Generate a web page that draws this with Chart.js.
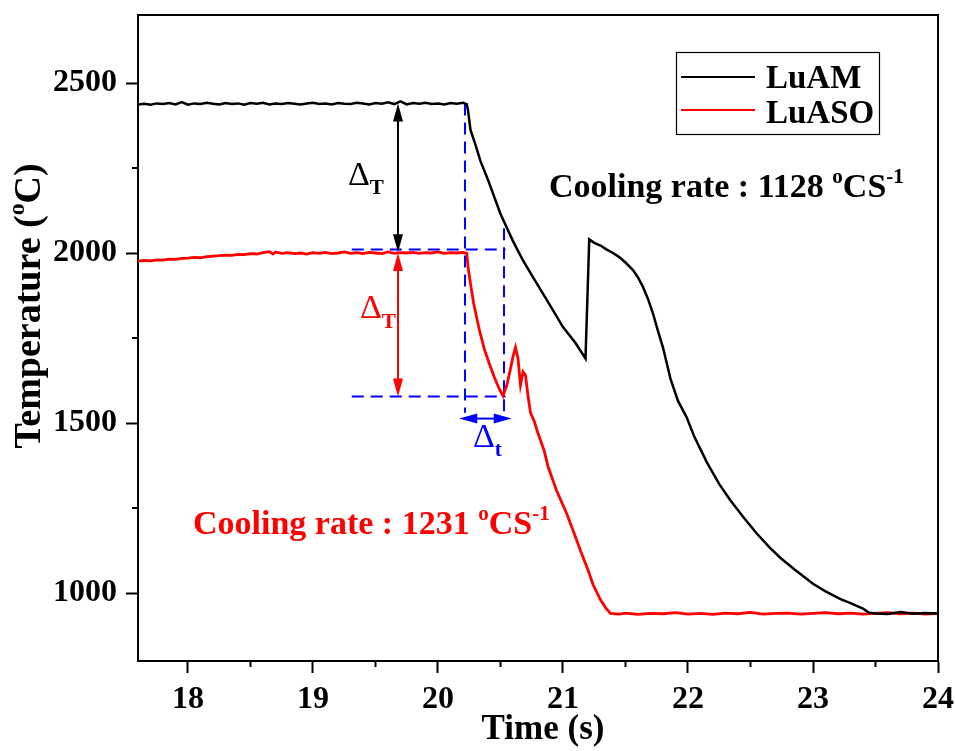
<!DOCTYPE html>
<html><head><meta charset="utf-8">
<script src="https://cdn.jsdelivr.net/npm/chart.js@4.4.1/dist/chart.umd.min.js"></script>
<style>html,body{margin:0;padding:0;background:#fff}canvas{display:block}</style>
</head><body>
<canvas id="c" width="955" height="751"></canvas>
<script>
// ---------- data ----------
const seriesNames = ['LuAM', 'LuASO'];

const luamTime = [17.60,17.65,17.70,17.75,17.80,17.85,17.90,17.95,18.00,18.05,18.10,18.15,18.20,18.25,18.30,18.35,18.40,18.45,18.50,18.55,18.60,18.65,18.70,18.75,18.80,18.85,18.90,18.95,19.00,19.05,19.10,19.15,19.20,19.25,19.30,19.35,19.40,19.45,19.50,19.55,19.60,19.65,19.70,19.75,19.80,19.85,19.90,19.95,20.00,20.05,20.10,20.15,20.20,20.23,
  20.24,20.26,20.30,20.34,20.40,20.50,20.60,20.68,20.75,20.87,21.00,21.10,21.18,
  21.21,21.25,21.30,21.35,21.40,21.45,21.50,21.56,21.60,21.64,21.68,21.72,21.76,21.80,21.86,21.92,21.99,22.05,22.15,22.25,22.34,22.45,22.55,22.65,22.74,22.85,23.00,23.10,23.22,23.30,23.40,23.45,23.50,23.60,23.70,23.80,23.90,24.00];
const luamTemp = [2437,2439,2436,2440,2438,2441,2437,2444,2436,2440,2438,2442,2439,2437,2441,2438,2440,2436,2441,2439,2442,2437,2440,2438,2441,2439,2437,2440,2442,2438,2440,2437,2441,2439,2438,2442,2440,2437,2441,2439,2443,2438,2446,2437,2441,2439,2442,2438,2440,2437,2441,2439,2442,2438,
  2420,2362,2318,2270,2215,2115,2035,1978,1935,1862,1782,1735,1690,
  2040,2030,2022,2010,2000,1988,1972,1950,1928,1900,1865,1822,1770,1722,1630,1565,1516,1460,1385,1320,1272,1220,1175,1135,1103,1070,1027,1005,982,970,954,942,940,938,944,939,941,940];

const lusoTime = [17.60,17.65,17.70,17.75,17.80,17.85,17.90,17.95,18.00,18.05,18.10,18.15,18.20,18.25,18.30,18.35,18.40,18.45,18.50,18.55,18.60,18.65,18.68,18.70,18.75,18.80,18.85,18.90,18.95,19.00,19.05,19.10,19.15,19.20,19.25,19.30,19.35,19.40,19.45,19.50,19.55,19.60,19.65,19.70,19.75,19.80,19.85,19.90,19.95,20.00,20.05,20.10,20.15,20.20,20.23,
  20.24,20.26,20.285,20.33,20.37,20.41,20.45,20.49,20.52,20.55,20.58,20.60,20.62,20.64,20.66,20.68,20.70,20.72,20.74,20.77,20.80,20.85,20.88,20.95,21.03,21.10,21.14,21.20,21.24,21.30,21.34,21.38,
  21.45,21.50,21.60,21.70,21.80,21.90,22.00,22.10,22.20,22.30,22.40,22.50,22.60,22.70,22.80,22.90,23.00,23.10,23.20,23.30,23.40,23.50,23.60,23.70,23.80,23.90,24.00];
const lusoTemp = [1976,1978,1977,1980,1979,1982,1981,1984,1985,1987,1986,1989,1991,1992,1994,1993,1996,1995,1998,1997,2001,2004,1997,2003,1999,2001,1998,2000,1997,2001,1999,2002,1998,2000,2003,1999,2001,1998,2002,2000,1998,2003,1999,2001,2000,2002,1999,2001,2000,2003,1999,2001,2000,2002,1999,
  1960,1910,1852,1775,1718,1675,1635,1600,1580,1610,1660,1695,1722,1690,1612,1650,1640,1580,1530,1505,1470,1418,1372,1300,1233,1165,1124,1068,1025,980,957,940,
  938,941,937,940,939,942,938,940,937,941,939,943,938,940,941,938,940,942,939,941,938,940,942,939,941,938,940];

const xTicks = [18, 19, 20, 21, 22, 23, 24];
const xMinorTicks = [18.5, 19.5, 20.5, 21.5, 22.5, 23.5];
const yTicks = [1000, 1500, 2000, 2500];
const yMinorTicks = [1250, 1750, 2250];

// blue dashed guide lines (time pairs / temperature pairs)
const guideTime = [[19.31, 20.54], [19.31, 20.54], [20.216, 20.216], [20.528, 20.528]];
const guideTemp = [[2010, 2010], [1578, 1578], [2440, 1530], [2073, 1527]];
// double arrows: black ΔT, red ΔT, blue Δt
const arrowTime = [[19.68, 19.68], [19.68, 19.68], [20.17, 20.59]];
const arrowTemp = [[2440, 2002], [2000, 1578], [1513, 1513]];
const rateTexts = ['Cooling rate : 1128 ', 'Cooling rate : 1231 '];

// ---------- chart ----------
const FONT = '"Liberation Serif", "Times New Roman", serif';
const BLACK = '#000000', RED = '#ff0000', BLUE = '#0000ff';

function pts(tx, ty) { return tx.map((t, i) => ({ x: t, y: ty[i] })); }

const datasets = [
  { label: seriesNames[0], data: pts(luamTime, luamTemp), borderColor: BLACK, borderWidth: 2.5 },
  { label: seriesNames[1], data: pts(lusoTime, lusoTemp), borderColor: RED, borderWidth: 2.8 }
];
guideTime.forEach((g, i) => {
  datasets.push({ label: 'guide' + i, data: pts(g, guideTemp[i]), borderColor: BLUE, borderWidth: 2, borderDash: [12, 7] });
});
datasets.forEach(d => { d.showLine = true; d.pointRadius = 0; d.fill = false; d.tension = 0; });

function fontOf(p, size) {
  const s = p.m ? size * 0.62 : size;
  const wgt = p.w === 'n' ? 'normal' : 'bold';
  return wgt + ' ' + s.toFixed(1) + 'px ' + FONT;
}
function richWidth(ctx, parts, size) {
  let w = 0;
  parts.forEach(p => { ctx.font = fontOf(p, size); w += ctx.measureText(p.t).width; });
  return w;
}
function drawRich(ctx, parts, x, y, size, color, align) {
  const w = richWidth(ctx, parts, size);
  let cx = align === 'center' ? x - w / 2 : x;
  ctx.fillStyle = color;
  ctx.textBaseline = 'alphabetic';
  ctx.textAlign = 'left';
  parts.forEach(p => {
    ctx.font = fontOf(p, size);
    const dy = p.m === 1 ? -size * 0.42 : (p.m === 2 ? size * 0.28 : 0);
    ctx.fillText(p.t, cx, y + dy);
    cx += ctx.measureText(p.t).width;
  });
}
function arrowHead(ctx, xt, yt, ang, len, half) {
  ctx.beginPath();
  ctx.moveTo(xt, yt);
  ctx.lineTo(xt - len * Math.cos(ang) + half * Math.sin(ang), yt - len * Math.sin(ang) - half * Math.cos(ang));
  ctx.lineTo(xt - len * Math.cos(ang) - half * Math.sin(ang), yt - len * Math.sin(ang) + half * Math.cos(ang));
  ctx.closePath();
  ctx.fill();
}

const overlay = {
  id: 'overlay',
  afterDatasetsDraw(chart) {
    const { ctx, scales: { x, y } } = chart;
    const cols = [BLACK, RED, BLUE];
    ctx.save();
    arrowTime.forEach((tt, i) => {
      const x1 = x.getPixelForValue(tt[0]), y1 = y.getPixelForValue(arrowTemp[i][0]);
      const x2 = x.getPixelForValue(tt[1]), y2 = y.getPixelForValue(arrowTemp[i][1]);
      const ang = Math.atan2(y2 - y1, x2 - x1);
      const L = 18, H = 5;
      ctx.strokeStyle = cols[i]; ctx.fillStyle = cols[i]; ctx.lineWidth = 2;
      ctx.beginPath();
      ctx.moveTo(x1 + (L - 2) * Math.cos(ang), y1 + (L - 2) * Math.sin(ang));
      ctx.lineTo(x2 - (L - 2) * Math.cos(ang), y2 - (L - 2) * Math.sin(ang));
      ctx.stroke();
      arrowHead(ctx, x2, y2, ang, L, H);
      arrowHead(ctx, x1, y1, ang + Math.PI, L, H);
    });
    ctx.restore();
  },
  afterDraw(chart) {
    const { ctx, chartArea: a, scales: { x, y } } = chart;
    ctx.save();
    // frame top & right
    ctx.strokeStyle = BLACK; ctx.lineWidth = 2;
    ctx.beginPath();
    ctx.moveTo(a.left - 1, a.top); ctx.lineTo(a.right, a.top); ctx.lineTo(a.right, a.bottom);
    ctx.stroke();
    // minor ticks
    ctx.beginPath();
    xMinorTicks.forEach(v => { const px = x.getPixelForValue(v); ctx.moveTo(px, a.bottom); ctx.lineTo(px, a.bottom + 6); });
    yMinorTicks.forEach(v => { const py = y.getPixelForValue(v); ctx.moveTo(a.left, py); ctx.lineTo(a.left - 6, py); });
    ctx.stroke();

    // axis titles
    drawRich(ctx, [{ t: 'Time (s)' }], (a.left + a.right) / 2 + 5, 739, 35, BLACK, 'center');
    ctx.save();
    ctx.translate(40, 306);
    ctx.rotate(-Math.PI / 2);
    drawRich(ctx, [{ t: 'Temperature (' }, { t: 'o', m: 1 }, { t: 'C)' }], 0, 0, 38, BLACK, 'center');
    ctx.restore();

    // Δ labels
    drawRich(ctx, [{ t: 'Δ', w: 'n' }, { t: 'T', m: 2 }], x.getPixelForValue(19.28), y.getPixelForValue(2201), 34, BLACK, 'left');
    drawRich(ctx, [{ t: 'Δ', w: 'n' }, { t: 'T', m: 2 }], x.getPixelForValue(19.376), y.getPixelForValue(1808), 34, RED, 'left');
    drawRich(ctx, [{ t: 'Δ', w: 'n' }, { t: 't', m: 2 }], x.getPixelForValue(20.28), y.getPixelForValue(1430), 34, BLUE, 'left');

    // cooling-rate notes
    drawRich(ctx, [{ t: rateTexts[0] }, { t: 'o', m: 1 }, { t: 'CS' }, { t: '-1', m: 1 }], 549, 197, 34, BLACK, 'left');
    drawRich(ctx, [{ t: rateTexts[1] }, { t: 'o', m: 1 }, { t: 'CS' }, { t: '-1', m: 1 }], 193, 534, 34, RED, 'left');

    // legend
    ctx.strokeStyle = BLACK; ctx.lineWidth = 1.2;
    ctx.strokeRect(676.5, 52.5, 203, 82);
    const ly = [77, 110], lb = [88, 123];
    [0, 1].forEach(i => {
      const ds = chart.data.datasets[i];
      ctx.strokeStyle = ds.borderColor; ctx.lineWidth = 2;
      ctx.beginPath(); ctx.moveTo(681, ly[i]); ctx.lineTo(755, ly[i]); ctx.stroke();
      drawRich(ctx, [{ t: ds.label }], 766, lb[i], 33, BLACK, 'left');
    });
    ctx.restore();
  }
};

const tickFont = { family: FONT, size: 32, weight: 'bold' };
new Chart(document.getElementById('c'), {
  type: 'scatter',
  data: { datasets },
  options: {
    responsive: false,
    animation: false,
    devicePixelRatio: 1,
    layout: { padding: { left: 0, right: 17, top: 15, bottom: 0 } },
    plugins: { legend: { display: false }, tooltip: { enabled: false } },
    scales: {
      x: {
        type: 'linear', min: 17.6, max: 24,
        afterFit: s => { s.height = 90; s.paddingLeft = 0; s.paddingRight = 0; },
        afterBuildTicks: s => { s.ticks = xTicks.map(v => ({ value: v })); },
        ticks: { font: tickFont, color: BLACK, padding: 8, maxRotation: 0, autoSkip: false, callback: v => String(v) },
        grid: { drawOnChartArea: false, drawTicks: true, tickLength: 12, tickWidth: 2, tickColor: BLACK },
        border: { display: true, width: 2, color: BLACK }
      },
      y: {
        type: 'linear', min: 800, max: 2700,
        afterFit: s => { s.width = 138; s.paddingTop = 0; s.paddingBottom = 0; },
        afterBuildTicks: s => { s.ticks = yTicks.map(v => ({ value: v })); },
        ticks: { font: tickFont, color: BLACK, padding: 9, autoSkip: false, callback: v => String(v) },
        grid: { drawOnChartArea: false, drawTicks: true, tickLength: 12, tickWidth: 2, tickColor: BLACK },
        border: { display: true, width: 2, color: BLACK }
      }
    }
  },
  plugins: [overlay]
});
</script>
</body></html>
